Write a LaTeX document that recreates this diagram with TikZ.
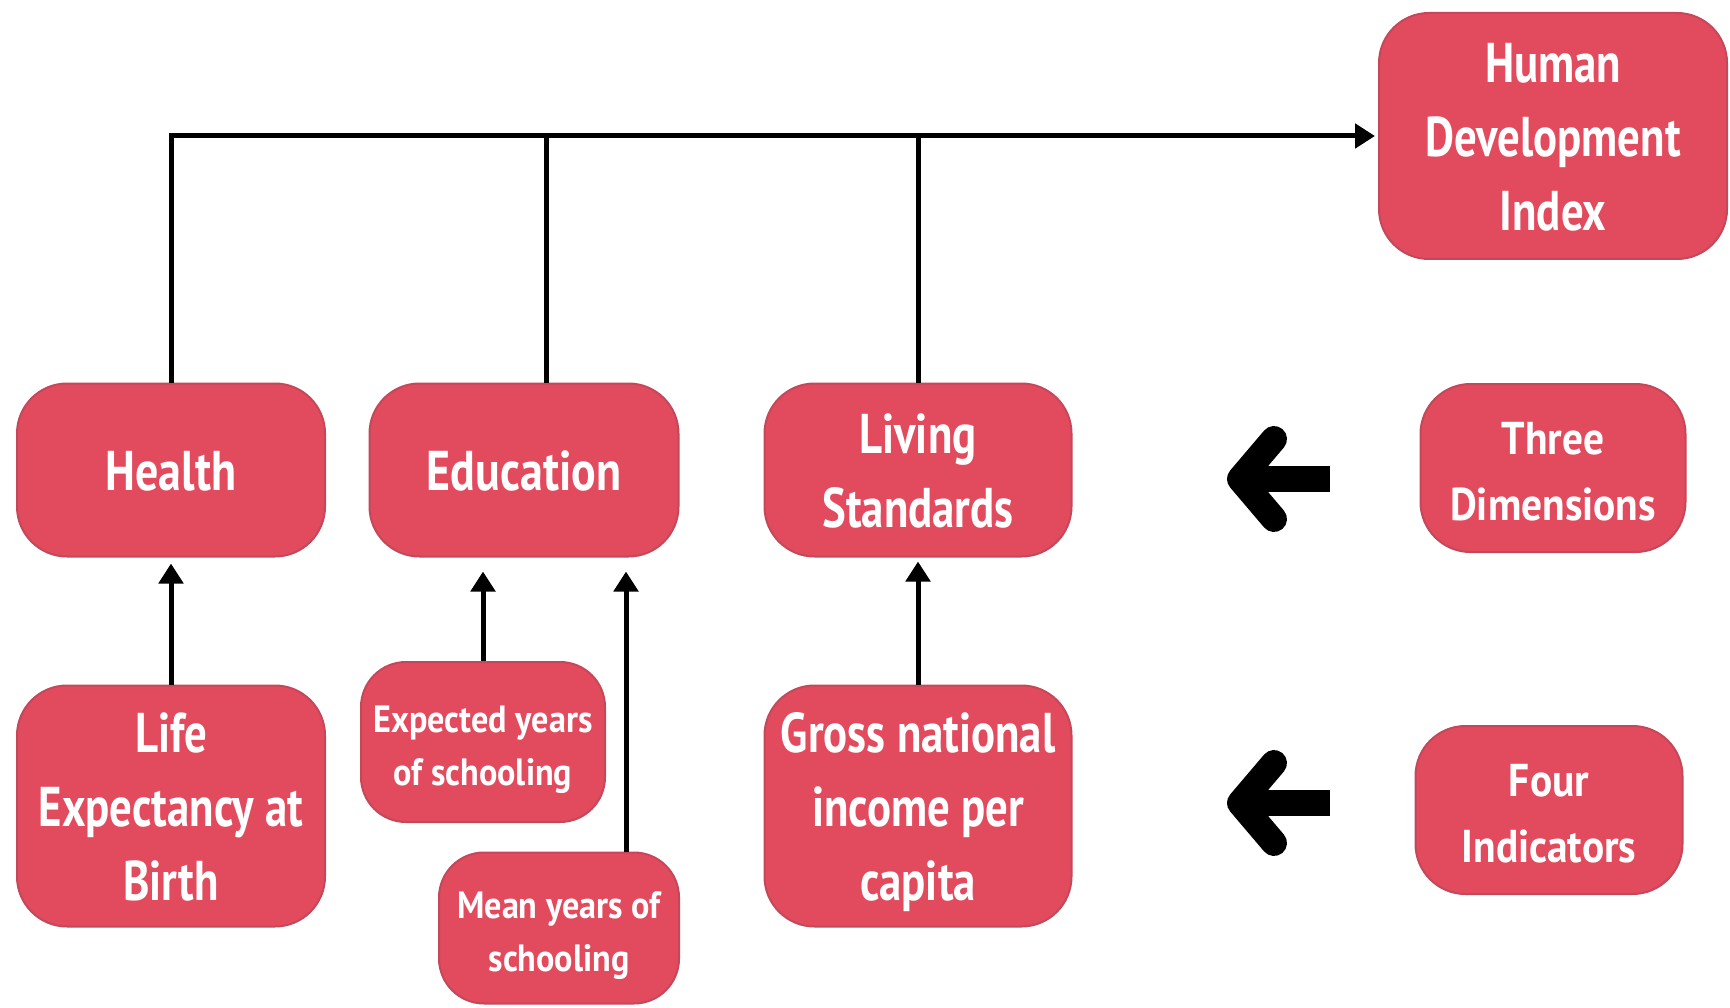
\documentclass[tikz,border=0pt]{standalone}
\usepackage{fontspec}
\usepackage{graphicx}
\setmainfont{PT Sans}
\usetikzlibrary{arrows.meta}
\definecolor{boxc}{HTML}{E24B5E}
\definecolor{bordc}{HTML}{C4475A}
\newcommand\sq[2]{\raisebox{-6pt}[\height][\depth]{\scalebox{#1}[1]{\begin{tabular}{@{}c@{}}#2\end{tabular}}}}
\tikzset{
  box/.style={draw=bordc, fill=boxc, line width=2pt, rounded corners=50pt, inner sep=0pt, text=white},
  bigtxt/.style={font=\fontsize{56}{74}\selectfont\bfseries},
  midtxt/.style={font=\fontsize{46}{66}\selectfont\bfseries},
  smalltxt/.style={font=\fontsize{38}{53}\selectfont\bfseries},
  conn/.style={line width=5pt, black},
  arr/.style={conn, -{Triangle[length=20pt,width=24pt]}},
  bigarrow/.style={line width=26pt, black, line join=round}
}
\begin{document}
\begin{tikzpicture}[x=1pt,y=-1pt]
\fill[white] (0,0) rectangle (1730,1008);
\useasboundingbox (0,0) rectangle (1730,1008);

\node[box, bigtxt, minimum width=348, minimum height=246] (hdi) at (1553,136) {\sq{0.8}{Human\\Development\\Index}};
\node[box, bigtxt, minimum width=308, minimum height=173] (health) at (171,470) {\sq{0.82}{Health}};
\node[box, bigtxt, minimum width=309, minimum height=173] (edu) at (524,470) {\sq{0.82}{Education}};
\node[box, bigtxt, minimum width=307, minimum height=173] (liv) at (918,470) {\sq{0.8}{Living\\Standards}};
\node[box, midtxt, minimum width=265, minimum height=168] (three) at (1553,468) {\sq{0.9}{Three\\Dimensions}};
\node[box, bigtxt, minimum width=308, minimum height=241] (life) at (171,806) {\sq{0.8}{Life\\Expectancy at\\Birth}};
\node[box, smalltxt, minimum width=244, minimum height=160, rounded corners=45pt] (exp) at (483,742) {\sq{0.9}{Expected years\\of schooling}};
\node[box, smalltxt, minimum width=240, minimum height=151, rounded corners=45pt] (mean) at (559,928) {\sq{0.9}{Mean years of\\schooling}};
\node[box, bigtxt, minimum width=307, minimum height=241] (gross) at (918,806) {\sq{0.8}{Gross national\\income per\\capita}};
\node[box, midtxt, minimum width=267, minimum height=168] (four) at (1549,810) {\sq{0.9}{Four\\Indicators}};

% top connectors
\draw[arr, shorten >=3pt] (health.north) |- (hdi.west);
\draw[conn] ([xshift=22pt]edu.north) -- ([xshift=22pt]edu.north |- hdi.west);
\draw[conn] (liv.north) -- (liv.north |- hdi.west);

% indicator arrows
\draw[arr, shorten >=6pt] (life.north) -- (health.south);
\draw[arr, shorten >=14pt] (exp.north) -- (exp.north |- edu.south);
\draw[arr, shorten >=14pt] ([xshift=67pt]mean.north) -- ([xshift=67pt]mean.north |- edu.south);
\draw[arr, shorten >=4pt] (gross.north) -- (liv.south);

% big left arrows
\coordinate (a1s) at (1330,479);
\coordinate (a1t) at (1240,479);
\draw[line width=26pt] (a1s) -- ([xshift=5pt]a1t);
\draw[bigarrow, line cap=round] ([xshift=34pt,yshift=40pt]a1t) -- (a1t) -- ([xshift=34pt,yshift=-40pt]a1t);
\coordinate (a2s) at (1330,803);
\coordinate (a2t) at (1240,803);
\draw[line width=26pt] (a2s) -- ([xshift=5pt]a2t);
\draw[bigarrow, line cap=round] ([xshift=34pt,yshift=40pt]a2t) -- (a2t) -- ([xshift=34pt,yshift=-40pt]a2t);
\end{tikzpicture}
\end{document}
